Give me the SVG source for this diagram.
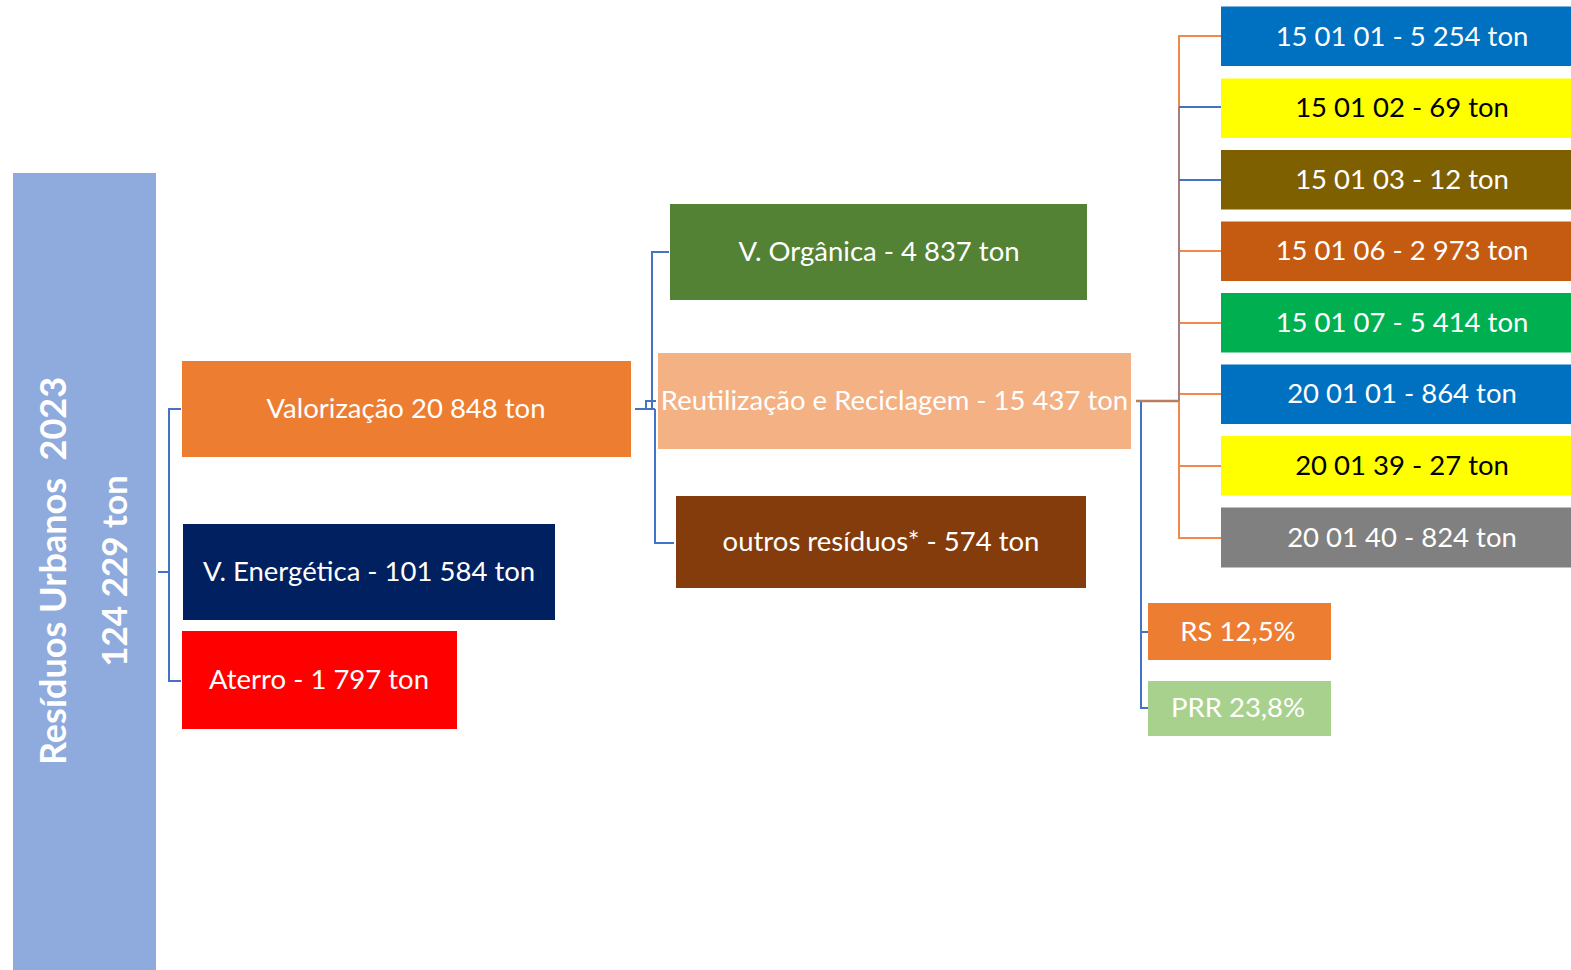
<svg xmlns="http://www.w3.org/2000/svg" width="1571" height="970" viewBox="0 0 1571 970">
<style>
text{font-family:Lato,"Noto Sans",sans-serif;font-size:27.5px;fill:#fff;text-anchor:middle}
.dk{fill:#000}
.big{font-size:36px;font-weight:bold}
.bl{fill:none;stroke:#4472C4;stroke-width:2}
.or{fill:none;stroke:#F08A4B;stroke-width:2}
</style>
<rect width="1571" height="970" fill="#fff"/>
<g id="connectors">
<path class="bl" d="M158 572H169M181 409H169V681H181"/>
<path class="bl" d="M635 409H655M669 252H652V409M646 409V401H656M655 409V543H674"/>
<path class="or" d="M1221 36H1179V538H1221M1179 251H1221M1179 323H1221M1179 394H1221M1179 466H1221"/>
<path class="bl" d="M1179 107H1221M1179 180H1221" />
<path d="M1179 107V401" stroke="#4472C4" stroke-opacity="0.45" stroke-width="2" fill="none"/>
<path d="M1136 401H1179" stroke="#B88060" stroke-width="2.5" fill="none"/>
<path class="bl" d="M1141 402V708H1149M1141 632H1149"/>
</g>
<g id="root"><rect x="13" y="173" width="143" height="797" fill="#8FAADC"/>
<text class="big" transform="translate(66,571) rotate(-90)" xml:space="preserve">Resíduos Urbanos  2023</text>
<text class="big" transform="translate(127,571) rotate(-90)" style="font-size:35px">124 229 ton</text></g>
<g id="valorizacao"><rect x="182" y="361" width="449" height="96" fill="#ED7D31"/><text x="406" y="418">Valorização 20 848 ton</text></g>
<g id="energetica"><rect x="183" y="524" width="372" height="96" fill="#002060"/><text x="369" y="581">V. Energética - 101 584 ton</text></g>
<g id="aterro"><rect x="182" y="631" width="275" height="98" fill="#FF0000"/><text x="319" y="689">Aterro - 1 797 ton</text></g>
<g id="organica"><rect x="670" y="204" width="417" height="96" fill="#548235"/><text x="879" y="261">V. Orgânica - 4 837 ton</text></g>
<g id="reciclagem"><rect x="658" y="353" width="473" height="96" fill="#F4B183"/><text x="894.5" y="410">Reutilização e Reciclagem - 15 437 ton</text></g>
<g id="outros"><rect x="676" y="496" width="410" height="92" fill="#843C0C"/><text x="881" y="551">outros resíduos* - 574 ton</text></g>
<g id="c150101"><rect x="1221" y="6.5" width="350" height="59.5" fill="#0070C0"/><text x="1402" y="46">15 01 01 - 5 254 ton</text></g>
<g id="c150102"><rect x="1221" y="78.5" width="350" height="59.5" fill="#FFFF00"/><text class="dk" x="1402" y="117">15 01 02 - 69 ton</text></g>
<g id="c150103"><rect x="1221" y="150" width="350" height="59.5" fill="#7F6000"/><text x="1402" y="189">15 01 03 - 12 ton</text></g>
<g id="c150106"><rect x="1221" y="221.5" width="350" height="59.5" fill="#C55A11"/><text x="1402" y="260">15 01 06 - 2 973 ton</text></g>
<g id="c150107"><rect x="1221" y="293" width="350" height="59.5" fill="#00B050"/><text x="1402" y="332">15 01 07 - 5 414 ton</text></g>
<g id="c200101"><rect x="1221" y="364.5" width="350" height="59.5" fill="#0070C0"/><text x="1402" y="403">20 01 01 - 864 ton</text></g>
<g id="c200139"><rect x="1221" y="436" width="350" height="59.5" fill="#FFFF00"/><text class="dk" x="1402" y="475">20 01 39 - 27 ton</text></g>
<g id="c200140"><rect x="1221" y="507.5" width="350" height="60" fill="#808080"/><text x="1402" y="547">20 01 40 - 824 ton</text></g>
<g id="rs"><rect x="1148" y="603" width="183" height="57" fill="#ED7D31"/><text x="1238" y="641">RS 12,5%</text></g>
<g id="prr"><rect x="1148" y="681" width="183" height="55" fill="#A9D18E"/><text x="1238" y="717">PRR 23,8%</text></g>
</svg>
